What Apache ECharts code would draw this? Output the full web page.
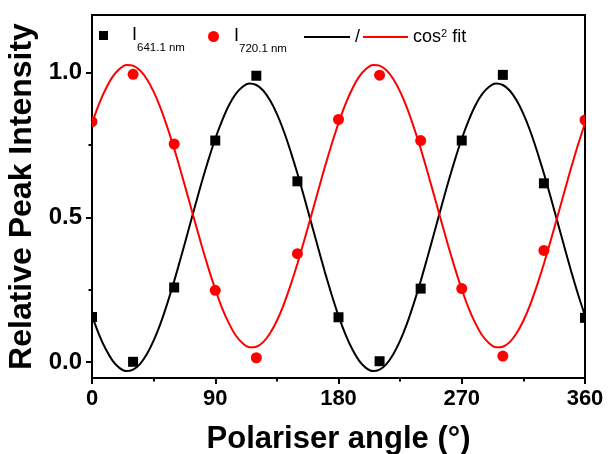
<!DOCTYPE html>
<html>
<head>
<meta charset="utf-8">
<script src="https://cdn.jsdelivr.net/npm/echarts@6/dist/echarts.min.js"></script>
<style>
  html, body { margin: 0; padding: 0; background: #fff; }
  #chart { width: 608px; height: 454px; }
</style>
</head>
<body>
<div id="chart"></div>
<script>
// Polariser angle of each measurement (degrees)
const angles = [0, 30, 60, 90, 120, 150, 180, 210, 240, 270, 300, 330, 360];
// Relative peak intensity of the 641.1 nm line
const i641 = [0.156, 0.001, 0.258, 0.766, 0.990, 0.625, 0.155, 0.003, 0.254, 0.766, 0.993, 0.618, 0.153];
// Relative peak intensity of the 720.1 nm line
const i720 = [0.831, 0.995, 0.754, 0.248, 0.015, 0.375, 0.839, 0.992, 0.766, 0.254, 0.021, 0.386, 0.837];

// cos^2 fit curves, sampled every 5 degrees from 0 to 360
const fitAngles = [
  0, 5, 10, 15, 20, 25, 30, 35, 40, 45, 50, 55, 60, 65, 70, 75, 80, 85, 90,
  95, 100, 105, 110, 115, 120, 125, 130, 135, 140, 145, 150, 155, 160, 165, 170, 175, 180,
  185, 190, 195, 200, 205, 210, 215, 220, 225, 230, 235, 240, 245, 250, 255, 260, 265, 270,
  275, 280, 285, 290, 295, 300, 305, 310, 315, 320, 325, 330, 335, 340, 345, 350, 355, 360];
const fit641 = [
  0.160, 0.097, 0.045, 0.005, -0.020, -0.031, -0.026, -0.007, 0.027, 0.074, 0.133, 0.203, 0.280,
  0.363, 0.449, 0.535, 0.620, 0.699, 0.772, 0.835, 0.888, 0.927, 0.952, 0.963, 0.958, 0.939,
  0.905, 0.858, 0.799, 0.729, 0.652, 0.569, 0.483, 0.397, 0.312, 0.233, 0.160,
  0.097, 0.045, 0.005, -0.020, -0.031, -0.026, -0.007, 0.027, 0.074, 0.133, 0.203, 0.280,
  0.363, 0.449, 0.535, 0.620, 0.699, 0.772, 0.835, 0.888, 0.927, 0.952, 0.963, 0.958, 0.939,
  0.905, 0.858, 0.799, 0.729, 0.652, 0.569, 0.483, 0.397, 0.312, 0.233, 0.160];
const fit720 = [
  0.826, 0.891, 0.944, 0.986, 1.013, 1.027, 1.025, 1.009, 0.979, 0.935, 0.879, 0.812, 0.738,
  0.657, 0.573, 0.488, 0.404, 0.325, 0.252, 0.187, 0.134, 0.092, 0.065, 0.051, 0.053, 0.069,
  0.100, 0.143, 0.199, 0.266, 0.340, 0.421, 0.505, 0.590, 0.674, 0.753, 0.826,
  0.891, 0.944, 0.986, 1.013, 1.027, 1.025, 1.009, 0.979, 0.935, 0.879, 0.812, 0.738,
  0.657, 0.573, 0.488, 0.404, 0.325, 0.252, 0.187, 0.134, 0.092, 0.065, 0.051, 0.053, 0.069,
  0.100, 0.143, 0.199, 0.266, 0.340, 0.421, 0.505, 0.590, 0.674, 0.753, 0.826];

// Axis ticks
const xMin = 0, xMax = 360, xStep = 90;
const yMin = -0.055, yMax = 1.2;
const yMajorTicks = [0, 0.5, 1.0];
const yMinorTicks = [0.25, 0.75];

const FONT = 'Liberation Sans, Arial, Helvetica, sans-serif';
const BLACK = '#000000';
const RED = '#ff0000';
const SQUARE_SIZE = 10;
const DOT_RADIUS = 5.5;

const pairs = (xs, ys) => xs.map((x, i) => [x, ys[i]]);

const legendRich = {
  m1: { fontFamily: FONT, fontSize: 18, lineHeight: 36, color: '#000', padding: [0, 0, 0, 19] },
  m2: { fontFamily: FONT, fontSize: 18, lineHeight: 36, color: '#000', padding: [0, 0, 0, 10] },
  s: { fontFamily: FONT, fontSize: 11.5, lineHeight: 12, verticalAlign: 'bottom', color: '#000' },
  t: { fontFamily: FONT, fontSize: 18, lineHeight: 18, color: '#000' },
  p: { fontFamily: FONT, fontSize: 11, lineHeight: 11, verticalAlign: 'top', color: '#000' }
};
const legendText = {
  'I641': '{m1|I}{s|641.1 nm}',
  'I720': '{m2|I}{s|720.1 nm}',
  'fit641': '{t|/}',
  'fit720': '{t|cos}{p|2}{t| fit}'
};
function legendItem(name, icon, color, left, top, w, h) {
  return {
    data: [{ name: name, icon: icon, itemStyle: { color: color, borderWidth: 0 } }],
    left: left, top: top, padding: 0,
    itemWidth: w, itemHeight: h,
    selectedMode: false,
    formatter: n => legendText[n],
    textStyle: { rich: legendRich }
  };
}

// Markers drawn through the axis scales, clipped to the plot frame
function squareMarker(params, api) {
  const p = api.coord([api.value(0), api.value(1)]);
  return {
    type: 'rect',
    shape: { x: p[0] - SQUARE_SIZE / 2, y: p[1] - SQUARE_SIZE / 2, width: SQUARE_SIZE, height: SQUARE_SIZE },
    style: { fill: BLACK }
  };
}
function dotMarker(params, api) {
  const p = api.coord([api.value(0), api.value(1)]);
  return {
    type: 'circle',
    shape: { cx: p[0], cy: p[1], r: DOT_RADIUS },
    style: { fill: RED }
  };
}

const chart = echarts.init(document.getElementById('chart'), null, { renderer: 'canvas' });

chart.setOption({
  animation: false,
  backgroundColor: '#fff',
  grid: {
    left: 92, right: 23, top: 15, bottom: 76,
    outerBoundsMode: 'none',
    containLabel: false,
    show: true, borderColor: BLACK, borderWidth: 2, backgroundColor: 'transparent'
  },
  legend: [
    legendItem('I641', 'rect', BLACK, 99, 26.5, 9, 9),
    legendItem('I720', 'circle', RED, 208, 27.5, 11, 11),
    legendItem('fit641', 'rect', BLACK, 304, 28, 46, 2),
    legendItem('fit720', 'rect', RED, 363, 28, 45, 2)
  ],
  xAxis: {
    type: 'value',
    min: xMin, max: xMax, interval: xStep,
    name: 'Polariser angle (°)',
    nameLocation: 'middle',
    nameGap: 46,
    nameTextStyle: { fontFamily: FONT, fontSize: 31, fontWeight: 'bold', color: BLACK },
    axisLine: { onZero: false, lineStyle: { color: BLACK, width: 2 } },
    axisTick: { length: 6, lineStyle: { color: BLACK, width: 2 } },
    minorTick: { show: true, splitNumber: 2, length: 3.5, lineStyle: { color: BLACK, width: 2 } },
    axisLabel: { fontFamily: FONT, fontSize: 22, fontWeight: 'bold', color: BLACK, margin: 10 },
    splitLine: { show: false },
    minorSplitLine: { show: false }
  },
  yAxis: [
    {
      type: 'value',
      min: yMin, max: yMax,
      name: 'Relative Peak Intensity',
      nameLocation: 'middle',
      nameGap: 52,
      nameTextStyle: { fontFamily: FONT, fontSize: 32, fontWeight: 'bold', color: BLACK },
      axisLine: { onZero: false, lineStyle: { color: BLACK, width: 2 } },
      axisTick: { customValues: yMajorTicks, length: 6, lineStyle: { color: BLACK, width: 2 } },
      axisLabel: {
        customValues: yMajorTicks,
        formatter: v => v.toFixed(1),
        fontFamily: FONT, fontSize: 24, fontWeight: 'bold', color: BLACK, margin: 10
      },
      splitLine: { show: false }
    },
    {
      // minor ticks on the left edge
      type: 'value',
      min: yMin, max: yMax,
      position: 'right',
      offset: -493,
      axisLine: { show: false, onZero: false },
      axisTick: { inside: true, customValues: yMinorTicks, length: 3.5, lineStyle: { color: BLACK, width: 2 } },
      axisLabel: { show: false },
      splitLine: { show: false }
    }
  ],
  series: [
    {
      name: 'fit641', type: 'line', smooth: 0.2, symbol: 'none',
      data: pairs(fitAngles, fit641),
      lineStyle: { color: BLACK, width: 2 }, itemStyle: { color: BLACK }, z: 2
    },
    {
      name: 'fit720', type: 'line', smooth: 0.2, symbol: 'none',
      data: pairs(fitAngles, fit720),
      lineStyle: { color: RED, width: 2 }, itemStyle: { color: RED }, z: 2
    },
    {
      name: 'I641', type: 'custom', clip: true,
      encode: { x: 0, y: 1 },
      renderItem: squareMarker,
      data: pairs(angles, i641),
      itemStyle: { color: BLACK }, z: 3
    },
    {
      name: 'I720', type: 'custom', clip: true,
      encode: { x: 0, y: 1 },
      renderItem: dotMarker,
      data: pairs(angles, i720),
      itemStyle: { color: RED }, z: 3
    }
  ]
});
</script>
</body>
</html>
